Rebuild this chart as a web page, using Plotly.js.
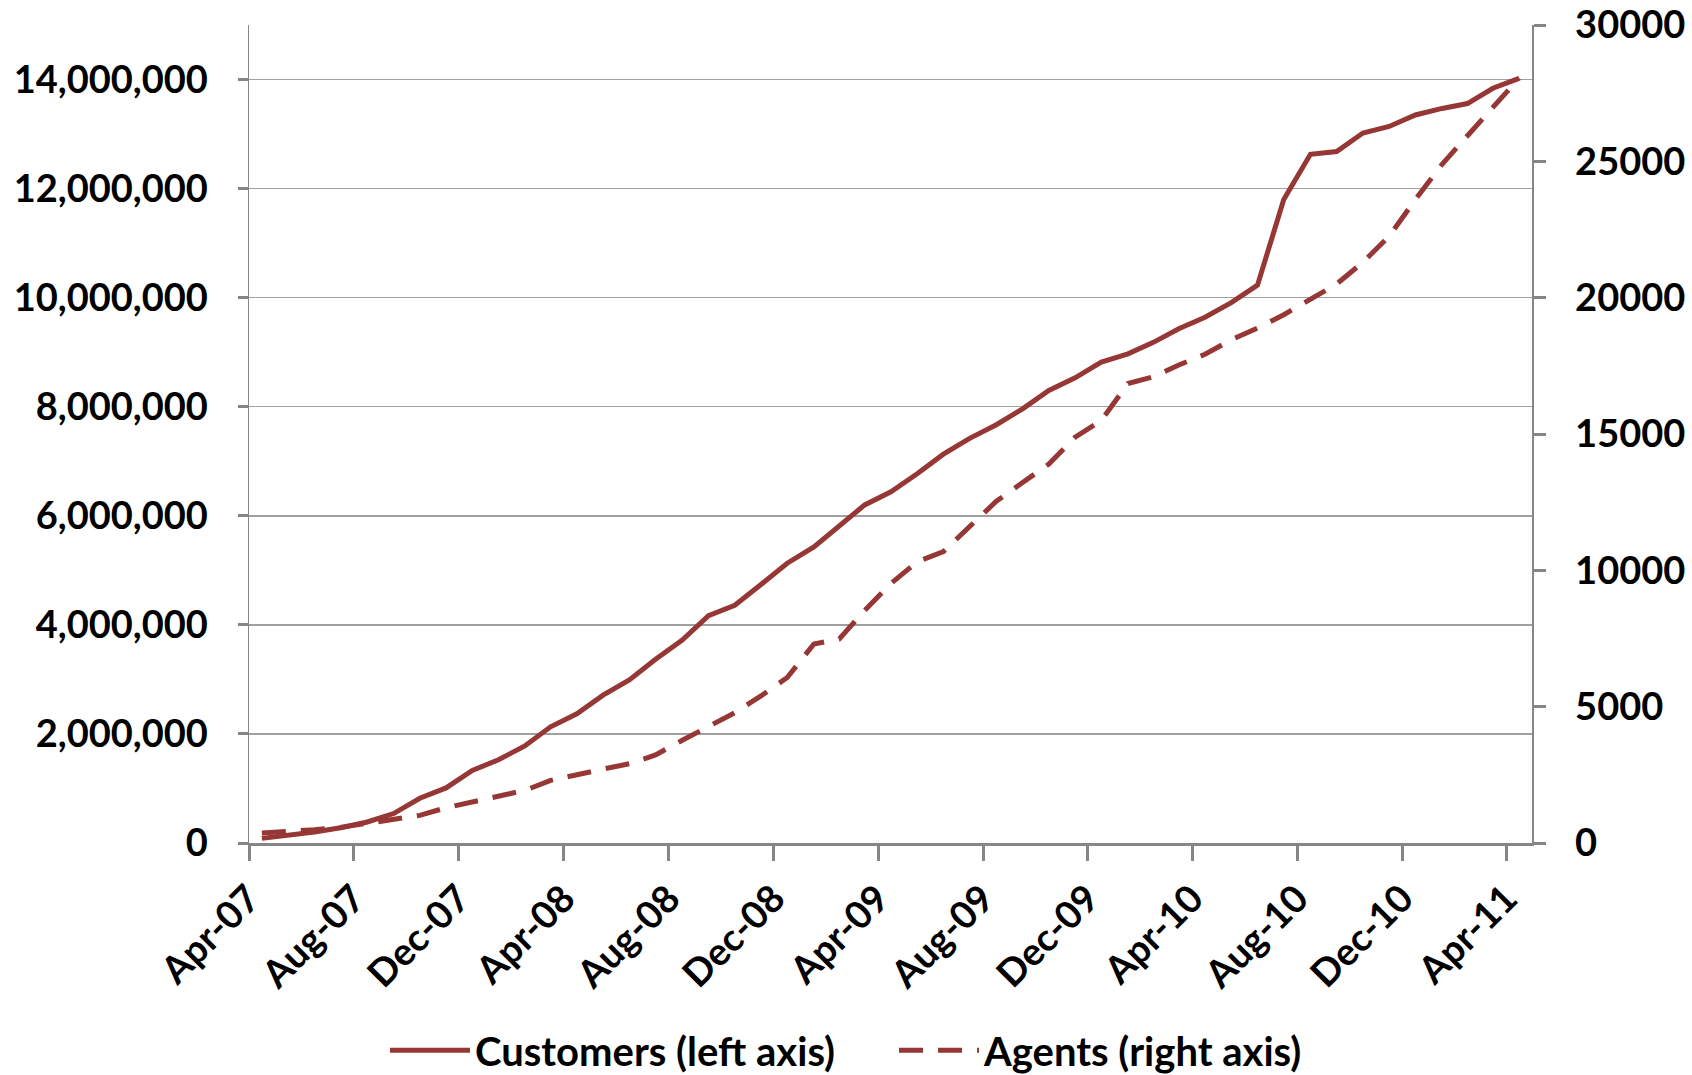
<!DOCTYPE html>
<html>
<head>
<meta charset="utf-8">
<script src="https://cdn.plot.ly/plotly-3.0.1.min.js"></script>
<style>html,body{margin:0;padding:0;background:#fff;}#chart{width:1692px;height:1075px;}</style>
</head>
<body>
<div id="chart"></div>
<script>
// Months (Apr-07 .. Apr-11)
const months = [
 '2007-04','2007-05','2007-06','2007-07','2007-08','2007-09','2007-10','2007-11','2007-12',
 '2008-01','2008-02','2008-03','2008-04','2008-05','2008-06','2008-07','2008-08','2008-09','2008-10','2008-11','2008-12',
 '2009-01','2009-02','2009-03','2009-04','2009-05','2009-06','2009-07','2009-08','2009-09','2009-10','2009-11','2009-12',
 '2010-01','2010-02','2010-03','2010-04','2010-05','2010-06','2010-07','2010-08','2010-09','2010-10','2010-11','2010-12',
 '2011-01','2011-02','2011-03','2011-04'
];
// Customers (left axis)
const customers = [
 85000,134000,200000,280000,385000,540000,820000,1010000,1330000,
 1530000,1780000,2130000,2370000,2710000,2990000,3370000,3720000,4170000,4360000,4740000,5130000,
 5430000,5820000,6200000,6440000,6770000,7130000,7420000,7670000,7960000,8300000,8530000,8820000,
 8970000,9180000,9430000,9640000,9910000,10230000,11800000,12630000,12680000,13020000,13140000,13350000,
 13470000,13560000,13840000,14020000
];
// Agents (right axis)
const agents = [
 366,415,488,574,708,867,1013,1294,1502,
 1734,1930,2295,2515,2711,2906,3230,3767,4259,4776,5392,6069,
 7300,7485,8531,9516,10316,10685,11608,12532,13221,13898,14883,15498,
 16852,17099,17529,17923,18453,18883,19376,19917,20500,21300,22250,23600,
 24893,25938,26983,28050
];
// Tick positions / labels for the date axis
const tickMonths = ['2007-04-01','2007-08-01','2007-12-01','2008-04-01','2008-08-01','2008-12-01',
 '2009-04-01','2009-08-01','2009-12-01','2010-04-01','2010-08-01','2010-12-01','2011-04-01'];
const seriesNames = ['Customers (left axis)', 'Agents (right axis)'];

const red = '#963735';
const font = {family: 'Lato, "Open Sans", sans-serif', size: 38, color: '#000', weight: 'bold'};
const legendFont = Object.assign({}, font, {size: 40});

const traces = [
 {x: months, y: customers, name: seriesNames[0], type: 'scatter', mode: 'lines',
  xperiod: 'M1', xperiodalignment: 'middle',
  line: {color: red, width: 5}, yaxis: 'y'},
 {x: months, y: agents, name: seriesNames[1], type: 'scatter', mode: 'lines',
  xperiod: 'M1', xperiodalignment: 'middle',
  line: {color: red, width: 5, dash: '24px,15px'}, yaxis: 'y2'}
];

const layout = {
 width: 1692, height: 1075,
 margin: {l: 249, r: 160, t: 25, b: 232},
 paper_bgcolor: '#fff', plot_bgcolor: '#fff',
 font: font,
 showlegend: true,
 legend: {orientation: 'h', xref: 'container', yref: 'container', x: 385/1692, xanchor: 'left',
   y: 0.023, yanchor: 'middle', font: legendFont, itemwidth: 80, entrywidth: 414, entrywidthmode: 'pixels',
   tracegroupgap: 0},
 xaxis: {type: 'date', range: ['2007-04-01', '2011-05-01'],
   tickmode: 'array', tickvals: tickMonths, tickformat: '%b-%y', tickangle: -45,
   showgrid: false, zeroline: false, showline: true, linecolor: '#868686', linewidth: 3,
   ticks: 'outside', ticklen: 15, tickwidth: 3, tickcolor: '#868686', tickfont: font},
 yaxis: {range: [0, 15000000], dtick: 2000000, tick0: 0, tickformat: ',d',
   showgrid: true, gridcolor: '#A0A0A0', gridwidth: 1.5, zeroline: false,
   showline: true, linecolor: '#868686', linewidth: 1.5,
   ticks: 'outside', ticklen: 10, tickwidth: 3, tickcolor: '#868686',
   tickfont: font, ticklabelstandoff: 22},
 yaxis2: {range: [0, 30000], dtick: 5000, tick0: 0, tickformat: 'd', overlaying: 'y', side: 'right',
   showgrid: false, zeroline: false, showline: true, linecolor: '#868686', linewidth: 1.5,
   ticks: 'outside', ticklen: 12, tickwidth: 3, tickcolor: '#868686',
   tickfont: font, ticklabelstandoff: 22}
};

Plotly.newPlot('chart', traces, layout, {displayModeBar: false, staticPlot: true});
</script>
</body>
</html>
